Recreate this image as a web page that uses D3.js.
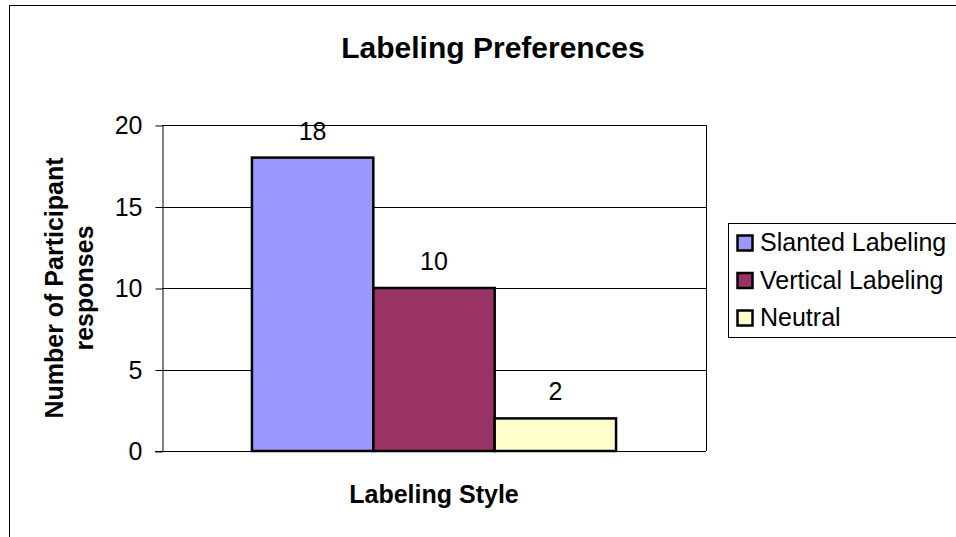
<!DOCTYPE html>
<html>
<head>
<meta charset="utf-8">
<script src="https://cdn.jsdelivr.net/npm/d3@7/dist/d3.min.js"></script>
<style>
  body { margin: 0; background: #fff; }
  svg { display: block; font-family: Arial, "Liberation Sans", sans-serif; }
</style>
</head>
<body>
<svg id="chart" width="956" height="537"></svg>
<script>
// data
const categories = ["Labeling Style"];
const seriesNames = ["Slanted Labeling", "Vertical Labeling", "Neutral"];
const seriesValues = [18, 10, 2];
const seriesColors = ["#9999ff", "#993366", "#ffffcc"];
const yTicks = [0, 5, 10, 15, 20];

const plot = { left: 162, right: 706, top: 125, bottom: 451 };
const fs = 25;

const svg = d3.select("#chart");

// outer frame (only top and left edges are visible)
svg.append("rect")
  .attr("x", 9.5).attr("y", 5.5)
  .attr("width", 1200).attr("height", 1200)
  .attr("fill", "none").attr("stroke", "#000").attr("stroke-width", 1);

// title
svg.append("text")
  .attr("x", 493).attr("y", 58)
  .attr("text-anchor", "middle")
  .attr("font-size", 30).attr("font-weight", "bold")
  .text("Labeling Preferences");

const y = d3.scaleLinear().domain([0, 20]).range([plot.bottom, plot.top]);

const x = d3.scaleBand().domain(categories)
  .range([plot.left, plot.right])
  .paddingOuter(0.247).paddingInner(0);

const xs = d3.scaleBand().domain(seriesNames)
  .range([0, x.bandwidth()]).padding(0);

// gridlines
svg.append("g")
  .selectAll("line")
  .data(yTicks.filter(d => d > 0))
  .join("line")
  .attr("x1", plot.left).attr("x2", plot.right)
  .attr("y1", d => Math.round(y(d)) + 0.5).attr("y2", d => Math.round(y(d)) + 0.5)
  .attr("stroke", "#000").attr("stroke-width", 1);

// right border of plot area
svg.append("line")
  .attr("x1", plot.right + 0.5).attr("x2", plot.right + 0.5)
  .attr("y1", plot.top).attr("y2", plot.bottom)
  .attr("stroke", "#000");

// y axis
const yAxis = svg.append("g")
  .attr("transform", `translate(${plot.left + 0.5},0.5)`)
  .call(d3.axisLeft(y).tickValues(yTicks).tickSize(7).tickPadding(13).tickSizeOuter(0));
yAxis.select(".domain").attr("stroke", "#000");
yAxis.selectAll(".tick line").attr("stroke", "#000");
yAxis.selectAll(".tick text")
  .attr("font-size", fs).attr("font-family", "Arial, 'Liberation Sans', sans-serif")
  .attr("fill", "#000");

// bars
svg.append("g")
  .selectAll("rect")
  .data(seriesValues)
  .join("rect")
  .attr("x", (d, i) => x(categories[0]) + xs(seriesNames[i]))
  .attr("y", d => y(d))
  .attr("width", xs.bandwidth())
  .attr("height", d => y(0) - y(d))
  .attr("fill", (d, i) => seriesColors[i])
  .attr("stroke", "#000").attr("stroke-width", 2.5);

// value labels
svg.append("g")
  .selectAll("text")
  .data(seriesValues)
  .join("text")
  .attr("x", (d, i) => x(categories[0]) + xs(seriesNames[i]) + xs.bandwidth() / 2)
  .attr("y", d => y(d) - 18)
  .attr("text-anchor", "middle")
  .attr("font-size", fs)
  .text(d => d);

// x axis baseline
svg.append("line")
  .attr("x1", plot.left - 7).attr("x2", plot.right)
  .attr("y1", y(0) + 0.5).attr("y2", y(0) + 0.5)
  .attr("stroke", "#000");

// axis titles
svg.append("text")
  .attr("x", 434).attr("y", 503)
  .attr("text-anchor", "middle")
  .attr("font-size", fs).attr("font-weight", "bold")
  .text(categories[0]);

const yTitle = svg.append("text")
  .attr("transform", "translate(0,288) rotate(-90)")
  .attr("text-anchor", "middle")
  .attr("font-size", fs).attr("font-weight", "bold");
yTitle.append("tspan").attr("x", 0).attr("y", 63).text("Number of Participant");
yTitle.append("tspan").attr("x", 0).attr("y", 93).text("responses");

// legend
const legend = svg.append("g");
legend.append("rect")
  .attr("x", 728.5).attr("y", 223.5)
  .attr("width", 300).attr("height", 114)
  .attr("fill", "#fff").attr("stroke", "#000");
const items = legend.selectAll("g.item")
  .data(seriesNames)
  .join("g").attr("class", "item")
  .attr("transform", (d, i) => `translate(737,${243 + i * 37.5})`);
items.append("rect")
  .attr("x", 0.5).attr("y", -7.5)
  .attr("width", 15).attr("height", 15)
  .attr("fill", (d, i) => seriesColors[i])
  .attr("stroke", "#000").attr("stroke-width", 2.5);
items.append("text")
  .attr("x", 23).attr("y", 8)
  .attr("font-size", fs)
  .text(d => d);
</script>
</body>
</html>
